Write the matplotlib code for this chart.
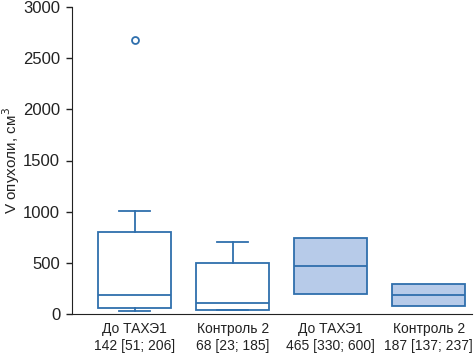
import matplotlib.pyplot as plt

plt.rcParams['font.family'] = ['Liberation Sans', 'DejaVu Sans']

labels = ['До ТАХЭ1\n142 [51; 206]', 'Контроль 2\n68 [23; 185]',
          'До ТАХЭ1\n465 [330; 600]', 'Контроль 2\n187 [137; 237]']
q1 = [59, 40, 191, 74]
med = [181, 103, 471, 181]
q3 = [805, 495, 744, 293]
whislo = [30, 40]
whishi = [1010, 702]
fliers = [[2676], []]

line_c = '#2f6fad'
fill_c = '#b7cbe9'

fig = plt.figure(figsize=(4.75, 3.56), dpi=100)
ax = fig.add_axes([72/475, 42/356, 400/475, 307/356])

# open boxes with whiskers
stats_open = []
for i in range(2):
    stats_open.append(dict(med=med[i], q1=q1[i], q3=q3[i],
                           whislo=whislo[i], whishi=whishi[i], fliers=fliers[i]))
ax.bxp(stats_open, positions=[1, 2], widths=0.745, patch_artist=True,
       boxprops=dict(facecolor='white', edgecolor=line_c, linewidth=1.3),
       medianprops=dict(color=line_c, linewidth=1.3),
       whiskerprops=dict(color=line_c, linewidth=1.3),
       capprops=dict(color=line_c, linewidth=1.3),
       capwidths=0.32,
       flierprops=dict(marker='o', markerfacecolor='white', markeredgecolor=line_c,
                       markersize=5, markeredgewidth=1.3))

# filled boxes without whiskers
stats_fill = []
for i in range(2, 4):
    stats_fill.append(dict(med=med[i], q1=q1[i], q3=q3[i],
                           whislo=q1[i], whishi=q3[i], fliers=[]))
ax.bxp(stats_fill, positions=[3, 4], widths=0.745, patch_artist=True,
       showcaps=False,
       boxprops=dict(facecolor=fill_c, edgecolor=line_c, linewidth=1.3),
       medianprops=dict(color=line_c, linewidth=1.3),
       whiskerprops=dict(color=line_c, linewidth=0))

ax.set_xlim(0.362, 4.44)
ax.set_ylim(0, 3000)
ax.set_yticks([0, 500, 1000, 1500, 2000, 2500, 3000])
ax.set_xticks([1, 2, 3, 4])
ax.set_xticklabels(labels, fontsize=10, color='#222222')
ax.tick_params(axis='x', length=0, pad=6)
ax.tick_params(axis='y', labelsize=12, length=4, width=1, pad=4.5, colors='#222222')
ax.set_ylabel('V опухоли, см$^3$', fontsize=11, color='#222222')
ax.yaxis.set_label_coords(-0.125, 0.5)
ax.spines['top'].set_visible(False)
ax.spines['right'].set_visible(False)
ax.spines['left'].set_color('#222222')
ax.spines['bottom'].set_color('#222222')

fig.savefig('out.png', dpi=100)
